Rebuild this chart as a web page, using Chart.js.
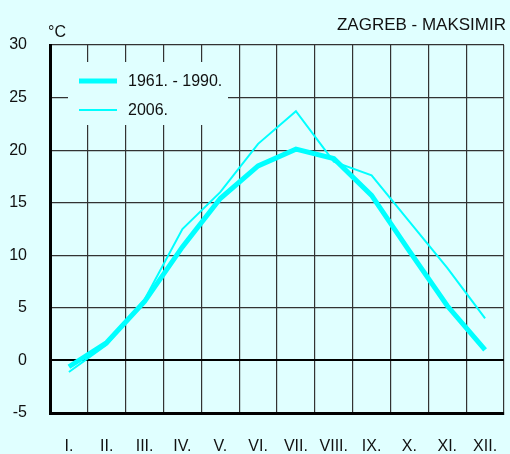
<!DOCTYPE html>
<html>
<head>
<meta charset="utf-8">
<script src="https://cdn.jsdelivr.net/npm/chart.js@4"></script>
<style>
	body{margin:0; background:#E0FFFF;}
	canvas{display:block;}
</style>
</head>
<body>
<canvas id="my-chart" width="510" height="454"></canvas>
<script>
//==========
// Data

const months = ["I.", "II.", "III.", "IV.", "V.", "VI.", "VII.", "VIII.", "IX.", "X.", "XI.", "XII."];
const mean6190 = [-0.6, 1.7, 5.6, 10.8, 15.4, 18.5, 20.1, 19.2, 15.7, 10.4, 5.2, 1.0];
const year2006 = [-1.1, 1.5, 5.8, 12.5, 16.0, 20.6, 23.7, 18.9, 17.6, 13.2, 8.8, 4.0];
const seriesNames = ["1961. - 1990.", "2006."];
const title = "ZAGREB - MAKSIMIR";
const unit = "°C";

const bg = "#E0FFFF";
const cyan = "#00FFFF";
const font = "'Liberation Sans', Arial, sans-serif";

//==========
// Plugins

const background = {
	id: "background",
	beforeDraw(chart){
		const ctx = chart.ctx;
		ctx.save();
		ctx.fillStyle = bg;
		ctx.fillRect(0, 0, chart.width, chart.height);
		ctx.restore();
	}
};

const decorations = {
	id: "decorations",
	afterDraw(chart){
		const ctx = chart.ctx;
		const area = chart.chartArea;
		ctx.save();
		// title and unit
		ctx.fillStyle = "#111";
		ctx.font = "17px " + font;
		ctx.textBaseline = "middle";
		ctx.textAlign = "right";
		ctx.fillText(title, 506, 25);
		ctx.textAlign = "left";
		ctx.font = "16px " + font;
		ctx.fillText(unit, area.left - 2, 33);

		// legend box
		ctx.fillStyle = bg;
		ctx.fillRect(area.left + 18, 62, 160, 63);
		const rows = [
			{y: 81, w: 5, text: chart.data.datasets[0].label},
			{y: 110, w: 2, text: chart.data.datasets[1].label}
		];
		for(let r of rows){
			ctx.strokeStyle = cyan;
			ctx.lineWidth = r.w;
			ctx.beginPath();
			ctx.moveTo(area.left + 29, r.y);
			ctx.lineTo(area.left + 67, r.y);
			ctx.stroke();
			ctx.fillStyle = "#111";
			ctx.font = "16px " + font;
			ctx.fillText(r.text, area.left + 78, r.y + 1);
		}
		ctx.restore();
	}
};

//==========
// Chart

const ctx = document.getElementById("my-chart").getContext("2d");
const myChart = new Chart(ctx, {
	type: "line",
	data: {
		labels: months,
		datasets: [{
			label: seriesNames[0],
			data: mean6190,
			borderColor: cyan,
			borderWidth: 5,
			pointRadius: 0,
			tension: 0
		}, {
			label: seriesNames[1],
			data: year2006,
			borderColor: cyan,
			borderWidth: 2,
			pointRadius: 0,
			tension: 0
		}]
	},
	options: {
		responsive: false,
		animation: false,
		layout: {padding: {top: 45, right: 6, left: 0, bottom: 0}},
		plugins: {
			legend: {display: false},
			tooltip: {enabled: false}
		},
		scales: {
			x: {
				offset: true,
				grid: {
					offset: true,
					color: "#333",
					lineWidth: 1.2,
					drawTicks: false
				},
				border: {color: "#000", width: 3},
				ticks: {
					color: "#111",
					font: {family: font, size: 16},
					padding: 24,
					maxRotation: 0,
					autoSkip: false
				},
				afterFit(scale){
					scale.height = 41;
					scale.paddingLeft = 0;
					scale.paddingRight = 0;
				}
			},
			y: {
				min: -5,
				max: 30,
				grid: {
					color: (c) => c.tick && c.tick.value === 0 ? "#000" : "#333",
					lineWidth: (c) => c.tick && c.tick.value === 0 ? 2 : 1.2,
					drawTicks: false
				},
				border: {color: "#000", width: 3},
				ticks: {
					stepSize: 5,
					color: "#111",
					font: {family: font, size: 16},
					padding: 23
				},
				afterFit(scale){
					scale.width = 50;
					scale.paddingTop = 0;
					scale.paddingBottom = 0;
				}
			}
		}
	},
	plugins: [background, decorations]
});
</script>
</body>
</html>
